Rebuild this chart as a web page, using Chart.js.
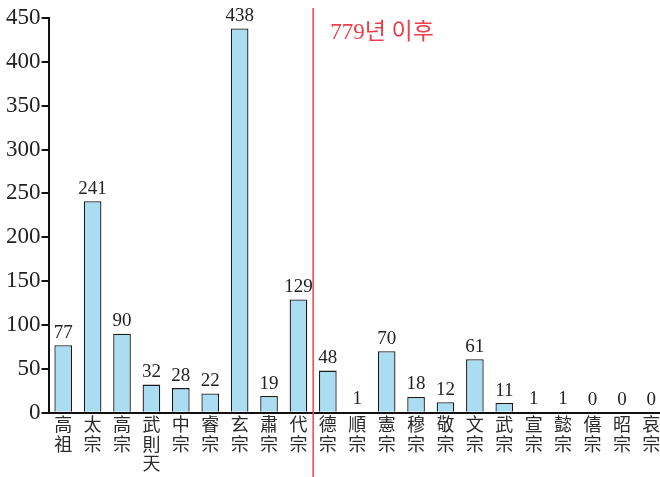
<!DOCTYPE html>
<html><head><meta charset="utf-8">
<script src="https://cdn.jsdelivr.net/npm/chart.js@4/dist/chart.umd.min.js"></script>
<style>
html,body{margin:0;padding:0;background:#fff;overflow:hidden;width:660px;height:477px}
#wrap{position:relative;width:668px;height:477px}
</style></head>
<body><div id="wrap"><canvas id="c"></canvas></div>
<script>
const emperors = ['高祖','太宗','高宗','武則天','中宗','睿宗','玄宗','肅宗','代宗','德宗','順宗','憲宗','穆宗','敬宗','文宗','武宗','宣宗','懿宗','僖宗','昭宗','哀宗'];
const counts = [77,241,90,32,28,22,438,19,129,48,1,70,18,12,61,11,1,1,0,0,0];
const yMax = 450;
const yStep = 50;
const dividerIndex = 8; // line drawn after 代宗
const annotationText = '779년 이후';

const valueLabels = {
  id: 'valueLabels',
  afterDatasetsDraw(chart) {
    const ctx = chart.ctx;
    const meta = chart.getDatasetMeta(0);
    ctx.save();
    ctx.font = '19px "Liberation Serif", serif';
    ctx.fillStyle = '#222';
    ctx.textAlign = 'center';
    ctx.textBaseline = 'bottom';
    meta.data.forEach((bar, i) => {
      ctx.fillText(String(counts[i]), bar.x, bar.y - 3);
    });
    ctx.restore();
  }
};

const divider = {
  id: 'divider',
  afterDraw(chart) {
    const ctx = chart.ctx;
    const xs = chart.scales.x;
    const x = (xs.getPixelForTick(dividerIndex) + xs.getPixelForTick(dividerIndex + 1)) / 2;
    ctx.save();
    ctx.strokeStyle = '#f0404c';
    ctx.lineWidth = 1.5;
    ctx.beginPath();
    ctx.moveTo(x, 8);
    ctx.lineTo(x, chart.height);
    ctx.stroke();
    ctx.fillStyle = '#ee3d4a';
    ctx.font = '23px "Liberation Serif", "Noto Sans CJK KR", serif';
    ctx.textAlign = 'left';
    ctx.textBaseline = 'middle';
    ctx.fillText(annotationText, x + 17, 33);
    ctx.restore();
  }
};

new Chart(document.getElementById('c'), {
  type: 'bar',
  data: {
    labels: emperors.map(n => n.split('')),
    datasets: [{
      data: counts,
      backgroundColor: '#aadcf2',
      borderColor: '#1a1a1a',
      borderWidth: 1.3,
      barPercentage: 0.6,
      categoryPercentage: 1.0
    }]
  },
  options: {
    responsive: true,
    maintainAspectRatio: false,
    animation: false,
    events: [],
    layout: { padding: { top: 18, right: 2, left: 5, bottom: 2 } },
    plugins: { legend: { display: false }, tooltip: { enabled: false } },
    scales: {
      x: {
        offset: true,
        grid: { display: false, drawTicks: false },
        border: { display: true, color: '#111', width: 2 },
        ticks: {
          color: '#2a2a2a',
          font: { family: '"Noto Sans CJK TC", sans-serif', size: 18, lineHeight: 1.08 },
          padding: 2,
          maxRotation: 0,
          autoSkip: false
        }
      },
      y: {
        min: 0,
        max: yMax,
        grid: { display: true, drawOnChartArea: false, drawTicks: true, tickLength: 7, color: '#111', lineWidth: 2 },
        border: { display: true, color: '#111', width: 2 },
        ticks: {
          stepSize: yStep,
          color: '#222',
          font: { family: '"Liberation Serif", serif', size: 23 },
          padding: 1
        }
      }
    }
  },
  plugins: [valueLabels, divider]
});
</script>
</body></html>
